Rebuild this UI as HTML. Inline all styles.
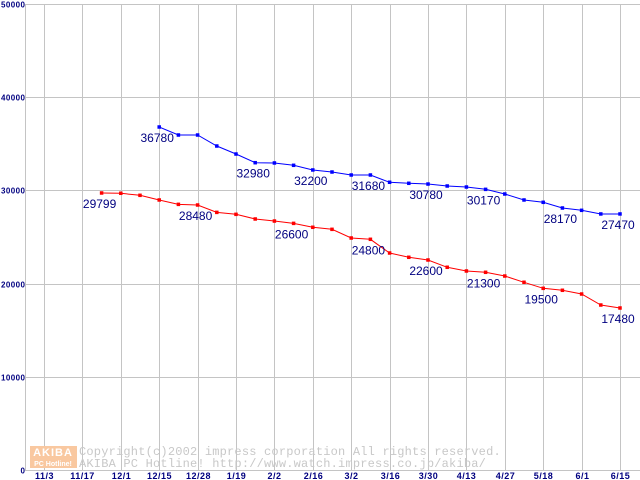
<!DOCTYPE html>
<html><head><meta charset="utf-8"><style>
html,body{margin:0;padding:0;background:#fff;}
svg{display:block;}
</style></head><body>
<svg id="chart" width="640" height="480" xmlns="http://www.w3.org/2000/svg">
  <g id="grid"></g>
  <g id="wm">
    <rect x="30" y="446" width="47" height="22" fill="#f9c8a0"/>
    <text x="53" y="456" font-family="Liberation Sans, sans-serif" font-size="11" font-weight="bold" fill="#fff" text-anchor="middle" letter-spacing="1">AKIBA</text>
    <text x="53" y="466" font-family="Liberation Sans, sans-serif" font-size="7" font-weight="bold" fill="#fff" text-anchor="middle">PC Hotline!</text>
    <text x="79" y="455" font-family="Liberation Mono, monospace" font-size="12" fill="#c8c8c8" letter-spacing="0.2">Copyright(c)2002 impress corporation All rights reserved.</text>
    <text x="79" y="467" font-family="Liberation Mono, monospace" font-size="12" fill="#c8c8c8" letter-spacing="0.2">AKIBA PC Hotline!  http://www.watch.impress.co.jp/akiba/</text>
  </g>
  <g id="series"></g>
</svg>
<script>
const xLabels = ["11/3","11/17","12/1","12/15","12/28","1/19","2/2","2/16","3/2","3/16","3/30","4/13","4/27","5/18","6/1","6/15"];
const yTicks = [0,10000,20000,30000,40000,50000];
const redStart = 3;
const redValues = [29830,29800,29580,29080,28610,28540,27750,27540,27040,26820,26570,26150,25930,25000,24860,23390,22930,22640,21860,21460,21320,20920,20250,19600,19390,18990,17810,17490];
const redLabelIdx = [3,8,13,17,20,23,26,30];
const redLabels = ["29799","28480","26600","24800","22600","21300","19500","17480"];
const blueStart = 6;
const blueValues = [36910,36050,36050,34870,34010,33080,33050,32800,32300,32080,31760,31760,30980,30870,30790,30580,30470,30220,29720,29080,28830,28220,27970,27580,27580];
const blueLabelIdx = [6,11,14,17,20,23,27,30];
const blueLabels = ["36780","32980","32200","31680","30780","30170","28170","27470"];

const NS="http://www.w3.org/2000/svg";
const X0=44, STEP=19.2, Y0=471, YS=93.2/10000;
function xPos(i){return X0+STEP*i;}
function yPos(v){return Y0-v*YS;}
function mk(tag,attrs,parent){const e=document.createElementNS(NS,tag);for(const k in attrs)e.setAttribute(k,attrs[k]);parent.appendChild(e);return e;}
const grid=document.getElementById('grid');
yTicks.forEach(v=>{
  const y=Math.round(yPos(v))-0.5;
  const l=mk('line',{x1:25,x2:640,y1:y,y2:y,stroke:'#c4c4c4','stroke-width':1},grid);
  
  
  const s=String(v);
  const attrs={x:25,y:y+3,'text-anchor':'end','font-family':'Liberation Sans, sans-serif','font-size':8,'font-weight':'bold',fill:'#000080'};
  if(s.length===5){attrs.textLength=24;attrs.lengthAdjust='spacing';}
  const t=mk('text',attrs,grid);
  t.textContent=s;
  
  
});
const ax=mk('line',{x1:25.5,x2:25.5,y1:4,y2:471,stroke:'#c4c4c4','stroke-width':1},grid);


xLabels.forEach((lab,k)=>{
  const x=Math.round(xPos(2*k))+0.5;
  const l=mk('line',{x1:x,x2:x,y1:4,y2:471,stroke:'#c4c4c4','stroke-width':1},grid);
  
  
  const t=mk('text',{x:x,y:479,'text-anchor':'middle','font-family':'Liberation Sans, sans-serif','font-size':9,'font-weight':'bold',fill:'#000080','letter-spacing':0.5},grid);
  t.textContent=lab;
  
  
});
const series=document.getElementById('series');
function draw(vals,start,color,labIdx,labs,name){
  const g=mk('g',{},series);
  
  
  const pts=vals.map((v,j)=>[xPos(start+j),yPos(v)]);
  const pl=mk('polyline',{points:pts.map(p=>p[0].toFixed(1)+','+p[1].toFixed(1)).join(' '),fill:'none',stroke:color,'stroke-width':1},g);
  
  
  pts.forEach(p=>{
    const r=mk('rect',{x:p[0]-1.75,y:p[1]-1.75,width:3.5,height:3.5,fill:color},g);
    
    
  });
  labIdx.forEach((i,k)=>{
    const v=vals[i-start];
    const t=mk('text',{x:xPos(i)-2,y:yPos(v)+15,'text-anchor':'middle','font-family':'Liberation Sans, sans-serif','font-size':12,fill:'#000080'},g);
    t.textContent=labs[k];
    
    
  });
}
draw(blueValues,blueStart,'#0000ff',blueLabelIdx,blueLabels,'blue');
draw(redValues,redStart,'#ff0000',redLabelIdx,redLabels,'red');
</script>
</body></html>
